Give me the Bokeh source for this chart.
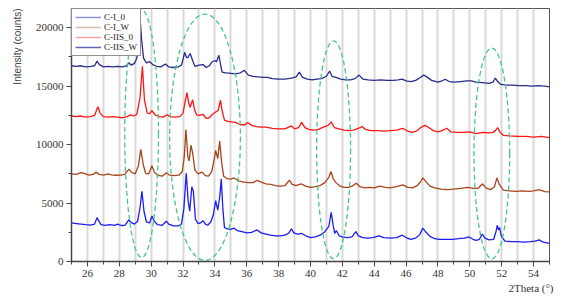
from bokeh.plotting import figure
from bokeh.models import Range1d, SingleIntervalTicker, Legend, LegendItem, Title
from bokeh.embed import file_html
from bokeh.resources import INLINE

# ---------------- data ----------------
series_names = ["C-I_0", "C-I_W", "C-IIS_0", "C-IIS_W"]

ci0_x = [25.0, 25.3, 25.6, 25.9, 26.2, 26.45, 26.6, 26.7, 26.85, 27.1, 27.4, 27.7, 27.9, 28.1, 28.35,
         28.6, 28.75, 28.95, 29.15, 29.3, 29.42, 29.55, 29.7, 29.9, 30.05, 30.2, 30.4, 30.7, 30.95,
         31.1, 31.4, 31.7, 31.9, 32.05, 32.2, 32.32, 32.42, 32.55, 32.65, 32.78, 32.95, 33.1, 33.25,
         33.4, 33.55, 33.75, 33.9, 34.05, 34.18, 34.3, 34.4, 34.5, 34.6, 34.8, 35.0, 35.2, 35.4, 35.7,
         36.0, 36.3, 36.65, 36.9, 37.2, 37.5, 37.8, 38.1, 38.4, 38.65, 38.8, 38.95, 39.2, 39.45, 39.7,
         40.0, 40.3, 40.6, 40.9, 41.15, 41.3, 41.42, 41.52, 41.62, 41.8, 42.0, 42.3, 42.6, 42.85, 43.0,
         43.3, 43.6, 43.9, 44.3, 44.6, 45.0, 45.4, 45.75, 46.0, 46.3, 46.6, 46.85, 47.05, 47.25, 47.5,
         47.8, 48.1, 48.5, 48.9, 49.3, 49.65, 49.95, 50.2, 50.4, 50.6, 50.78, 50.95, 51.2, 51.5, 51.65,
         51.72, 51.8, 51.87, 51.97, 52.2, 52.6, 53.0, 53.4, 53.8, 54.1, 54.35, 54.6, 55.0]
ci0_y = [3300, 3250, 3200, 3150, 3120, 3200, 3750, 3500, 3150, 3100, 3150, 3100, 3200, 3080, 3100,
         3550, 3350, 3200, 3450, 4600, 6000, 4300, 3400, 3300, 3900, 3450, 3150, 3100, 3450,
         3200, 3050, 3050, 3200, 4500, 7550, 5200, 4300, 6400, 6000, 3600, 3250, 3300, 3500,
         3200, 3100, 3400, 4000, 5200, 4400, 5500, 7050, 4500, 2900, 2800, 2750, 2850, 2650, 2550,
         2450, 2500, 2700, 2450, 2350, 2250, 2200, 2200, 2250, 2450, 2800, 2450, 2350, 2400, 2200,
         2050, 2100, 2250, 2550, 3000, 4200, 3100, 2400, 2650, 2200, 2100, 2050, 2100, 2550, 2200,
         2050, 2000, 2050, 2200, 2050, 2000, 2050, 2250, 2050, 1900, 2000, 2300, 2850, 2500, 2150,
         1950, 1900, 1900, 1900, 1950, 2000, 2100, 1900, 1800, 1900, 2350, 2000, 1850, 1900, 2600,
         3100, 2700, 2900, 2200, 1750, 1700, 1700, 1650, 1700, 1750, 1850, 1650, 1550]

ciw_x = [25.0, 25.3, 25.6, 25.8, 26.1, 26.35, 26.55, 26.75, 27.0, 27.3, 27.5, 27.8, 28.1, 28.35, 28.6,
         28.8, 29.0, 29.2, 29.35, 29.5, 29.65, 29.85, 30.05, 30.2, 30.4, 30.7, 30.95, 31.15, 31.45,
         31.75, 31.95, 32.08, 32.18, 32.3, 32.38, 32.5, 32.6, 32.75, 32.95, 33.2, 33.4, 33.6, 33.8,
         33.95, 34.05, 34.18, 34.3, 34.42, 34.55, 34.75, 35.0, 35.2, 35.5, 35.8, 36.1, 36.4, 36.65,
         36.9, 37.2, 37.5, 37.8, 38.1, 38.4, 38.68, 38.85, 39.1, 39.4, 39.7, 40.0, 40.3, 40.6, 40.9,
         41.15, 41.28, 41.42, 41.6, 41.8, 42.1, 42.4, 42.6, 42.88, 43.1, 43.4, 43.7, 44.0, 44.35, 44.7,
         45.0, 45.4, 45.8, 46.1, 46.4, 46.7, 46.9, 47.05, 47.2, 47.5, 47.8, 48.2, 48.6, 49.0, 49.4,
         49.9, 50.2, 50.5, 50.8, 51.0, 51.3, 51.55, 51.7, 51.85, 52.1, 52.5, 52.9, 53.3, 53.7, 54.0,
         54.35, 54.7, 55.0]
ciw_y = [7500, 7450, 7600, 7550, 7400, 7450, 7650, 7450, 7400, 7500, 7420, 7380, 7400, 7450, 7900,
         7600, 7500, 8200, 9600, 8300, 7550, 7500, 8200, 7650, 7380, 7300, 7600, 7400, 7350,
         7400, 7700, 9000, 11300, 9000, 8600, 9950, 9300, 7800, 7500, 7650, 7350, 7300, 7700,
         8700, 9500, 8800, 10300, 8500, 7300, 7100, 7050, 7150, 6900, 6800, 6750, 6750, 6950,
         6800, 6650, 6600, 6500, 6450, 6500, 6950, 6600, 6500, 6650, 6450, 6350, 6400, 6500, 6750,
         7200, 7700, 7100, 6750, 6500, 6350, 6350, 6450, 6700, 6400, 6300, 6350, 6300, 6450, 6350,
         6300, 6400, 6550, 6350, 6300, 6500, 6800, 7150, 6900, 6450, 6300, 6200, 6150, 6200, 6250,
         6350, 6250, 6250, 6650, 6300, 6150, 6400, 7150, 6600, 6100, 6050, 6000, 6050, 6000, 6050,
         6150, 5980, 5950]

ciis0_x = [25.0, 25.3, 25.6, 25.9, 26.2, 26.45, 26.65, 26.8, 27.0, 27.3, 27.6, 27.9, 28.2, 28.5, 28.7,
           28.9, 29.1, 29.3, 29.45, 29.58, 29.75, 29.9, 30.05, 30.25, 30.5, 30.75, 31.0, 31.2, 31.5,
           31.8, 32.0, 32.12, 32.25, 32.35, 32.45, 32.6, 32.72, 32.85, 33.05, 33.25, 33.45, 33.65,
           33.85, 34.05, 34.2, 34.35, 34.45, 34.6, 34.8, 35.05, 35.3, 35.6, 35.9, 36.05, 36.3, 36.6,
           36.9, 37.2, 37.6, 38.0, 38.4, 38.8, 39.0, 39.25, 39.45, 39.65, 39.9, 40.2, 40.5, 40.8, 41.1,
           41.3, 41.5, 41.8, 42.1, 42.4, 42.7, 43.0, 43.25, 43.45, 43.8, 44.2, 44.6, 45.0, 45.4, 45.8,
           46.1, 46.4, 46.7, 46.95, 47.2, 47.45, 47.7, 48.0, 48.25, 48.55, 48.8, 49.2, 49.6, 50.0, 50.4,
           50.8, 51.2, 51.45, 51.6, 51.75, 51.9, 52.1, 52.5, 53.0, 53.5, 54.0, 54.5, 55.0]
ciis0_y = [12450, 12400, 12450, 12350, 12400, 12500, 13250, 12700, 12400, 12350, 12400, 12350, 12300,
           12400, 12550, 12450, 12600, 14000, 16700, 13800, 12700, 12650, 12900, 12550, 12400, 12350,
           12550, 12400, 12350, 12400, 12700, 13600, 14450, 13600, 13200, 13850, 13000, 12550, 12500,
           12600, 12250, 12300, 12600, 12800, 12900, 13800, 12900, 12100, 12000, 11950, 11900, 11700,
           11700, 11900, 11650, 11550, 11500, 11500, 11400, 11350, 11350, 11600, 11350, 11450, 11900,
           11450, 11300, 11250, 11300, 11500, 11650, 11950, 11450, 11350, 11250, 11200, 11250, 11400,
           11550, 11300, 11200, 11200, 11150, 11200, 11250, 11400, 11150, 11050, 11200, 11500, 11650,
           11450, 11200, 11100, 11200, 11400, 11100, 11050, 11050, 11100, 10950, 11050, 11000, 11050,
           11200, 11450, 11050, 10800, 10750, 10700, 10700, 10650, 10700, 10600]

ciisw_x = [25.0, 25.3, 25.6, 25.9, 26.2, 26.45, 26.6, 26.75, 27.0, 27.3, 27.6, 27.9, 28.2, 28.45, 28.6,
           28.75, 28.95, 29.1, 29.2, 29.3, 29.4, 29.52, 29.7, 29.9, 30.1, 30.35, 30.6, 30.9, 31.1, 31.4,
           31.7, 31.9, 32.0, 32.1, 32.22, 32.3, 32.45, 32.6, 32.75, 33.0, 33.25, 33.45, 33.65, 33.8,
           34.0, 34.1, 34.25, 34.35, 34.45, 34.7, 35.0, 35.3, 35.6, 35.85, 36.1, 36.4, 36.7, 37.0, 37.3,
           37.6, 38.0, 38.4, 38.8, 39.1, 39.3, 39.5, 39.8, 40.1, 40.4, 40.7, 41.0, 41.2, 41.35, 41.6,
           41.9, 42.2, 42.5, 42.8, 43.05, 43.3, 43.6, 44.0, 44.4, 44.8, 45.2, 45.5, 45.75, 46.0, 46.3,
           46.6, 46.9, 47.1, 47.3, 47.6, 48.0, 48.25, 48.45, 48.7, 49.0, 49.4, 49.8, 50.1, 50.4, 50.8,
           51.2, 51.45, 51.6, 51.75, 51.95, 52.3, 52.7, 53.1, 53.5, 53.9, 54.3, 54.7, 55.0]
ciisw_y = [16750, 16700, 16750, 16650, 16700, 16750, 17150, 16850, 16650, 16700, 16650, 16700, 16650,
           16750, 17000, 16800, 16950, 17400, 18700, 20900, 19000, 17400, 17000, 17100, 16850, 16700,
           16650, 16900, 16650, 16600, 16650, 16800, 17300, 17900, 17450, 17450, 17800, 17200, 16700,
           16800, 16850, 16600, 16750, 17050, 17200, 17100, 17650, 16900, 16200, 16150, 16100, 16050,
           16150, 16350, 15950, 15850, 15800, 15750, 15750, 15650, 15600, 15600, 15700, 15800, 16200,
           15750, 15600, 15550, 15600, 15650, 15850, 16300, 15850, 15750, 15600, 15550, 15550, 15650,
           15950, 15600, 15550, 15500, 15550, 15500, 15500, 15550, 15600, 15450, 15400, 15500, 15750,
           15950, 15800, 15500, 15350, 15450, 15600, 15400, 15350, 15400, 15450, 15450, 15350, 15300,
           15250, 15350, 15700, 15400, 15150, 15100, 15100, 15050, 15050, 15000, 15050, 15000, 14950]

# highlight ellipses (centre x, centre y, full width, full height)
ell_x = [29.4, 33.38, 41.45, 51.38]
ell_y = [10940, 10630, 9560, 9245]
ell_w = [2.12, 4.44, 2.13, 2.24]
ell_h = [21200, 21080, 18660, 18030]

x_range = (25, 55)
y_range = (0, 21650)
x_title = "2Theta (°)"
y_title = "Intensity (counts)"

# ---------------- styling ----------------
line_colors = ["#1c1cf5", "#a8441c", "#ff1414", "#2a2a8e"]
legend_colors = ["#9090ea", "#dcbca8", "#ffa0a0", "#6464b8"]
serif = "Liberation Serif"

p = figure(frame_width=478, frame_height=253, output_backend="svg", toolbar_location=None,
           x_range=Range1d(*x_range), y_range=Range1d(*y_range),
           min_border_left=71, min_border_right=14, min_border_top=8, min_border_bottom=35)

p.background_fill_color = "white"
p.border_fill_color = "white"
p.outline_line_color = "#555555"
p.outline_line_width = 1

# grid: vertical lines each degree, no horizontal grid
p.xgrid.ticker = SingleIntervalTicker(interval=1)
p.xgrid.grid_line_color = "#d9d9d9"
p.xgrid.grid_line_width = 2
p.ygrid.grid_line_color = None

# axes
p.xaxis.ticker = SingleIntervalTicker(interval=2, num_minor_ticks=2)
p.yaxis.ticker = SingleIntervalTicker(interval=5000, num_minor_ticks=2)
for ax in (p.xaxis[0], p.yaxis[0]):
    ax.axis_line_color = "#444444"
    ax.axis_line_width = 1.5
    ax.major_tick_line_color = "#444444"
    ax.minor_tick_line_color = "#444444"
    ax.major_tick_out = 5
    ax.major_tick_in = 0
    ax.minor_tick_out = 3
    ax.minor_tick_in = 0
    ax.major_label_text_font = serif
    ax.major_label_text_font_size = "11px"
    ax.major_label_text_color = "#333333"
    ax.major_label_standoff = 3

# series lines
series = [(ci0_x, ci0_y), (ciw_x, ciw_y), (ciis0_x, ciis0_y), (ciisw_x, ciisw_y)]
for (xs, ys), c in zip(series, line_colors):
    p.line(xs, ys, line_color=c, line_width=1.3)

# dashed ellipses
p.ellipse(x=ell_x, y=ell_y, width=ell_w, height=ell_h, fill_alpha=0,
          line_color="#42c985", line_width=1.3, line_dash="5 3")

# legend (pale sample lines; NaN point so nothing is drawn in the plot)
nan = float("nan")
items = []
for name, c in zip(series_names, legend_colors):
    r = p.line([nan], [nan], line_color=c, line_width=1.5)
    items.append(LegendItem(label=name, renderers=[r]))
legend = Legend(items=items, location="top_left", margin=0, padding=3, spacing=0,
                label_text_font=serif, label_text_font_size="9px", label_text_color="#222222",
                label_height=8, glyph_height=8, glyph_width=26, label_standoff=3,
                border_line_color="#222222", border_line_width=1,
                background_fill_color="white", background_fill_alpha=1)
p.add_layout(legend, "center")

# axis titles
p.add_layout(Title(text=y_title, align="right", text_font="Liberation Sans",
                   text_font_size="10px", text_font_style="normal", text_color="#444444",
                   standoff=19), "left")
p.add_layout(Title(text=x_title, align="right", text_font=serif, offset=-4,
                   text_font_size="11px", text_font_style="normal", text_color="#333333",
                   standoff=0, text_line_height=0.9), "below")

open("out.html", "w").write(file_html(p, INLINE))
